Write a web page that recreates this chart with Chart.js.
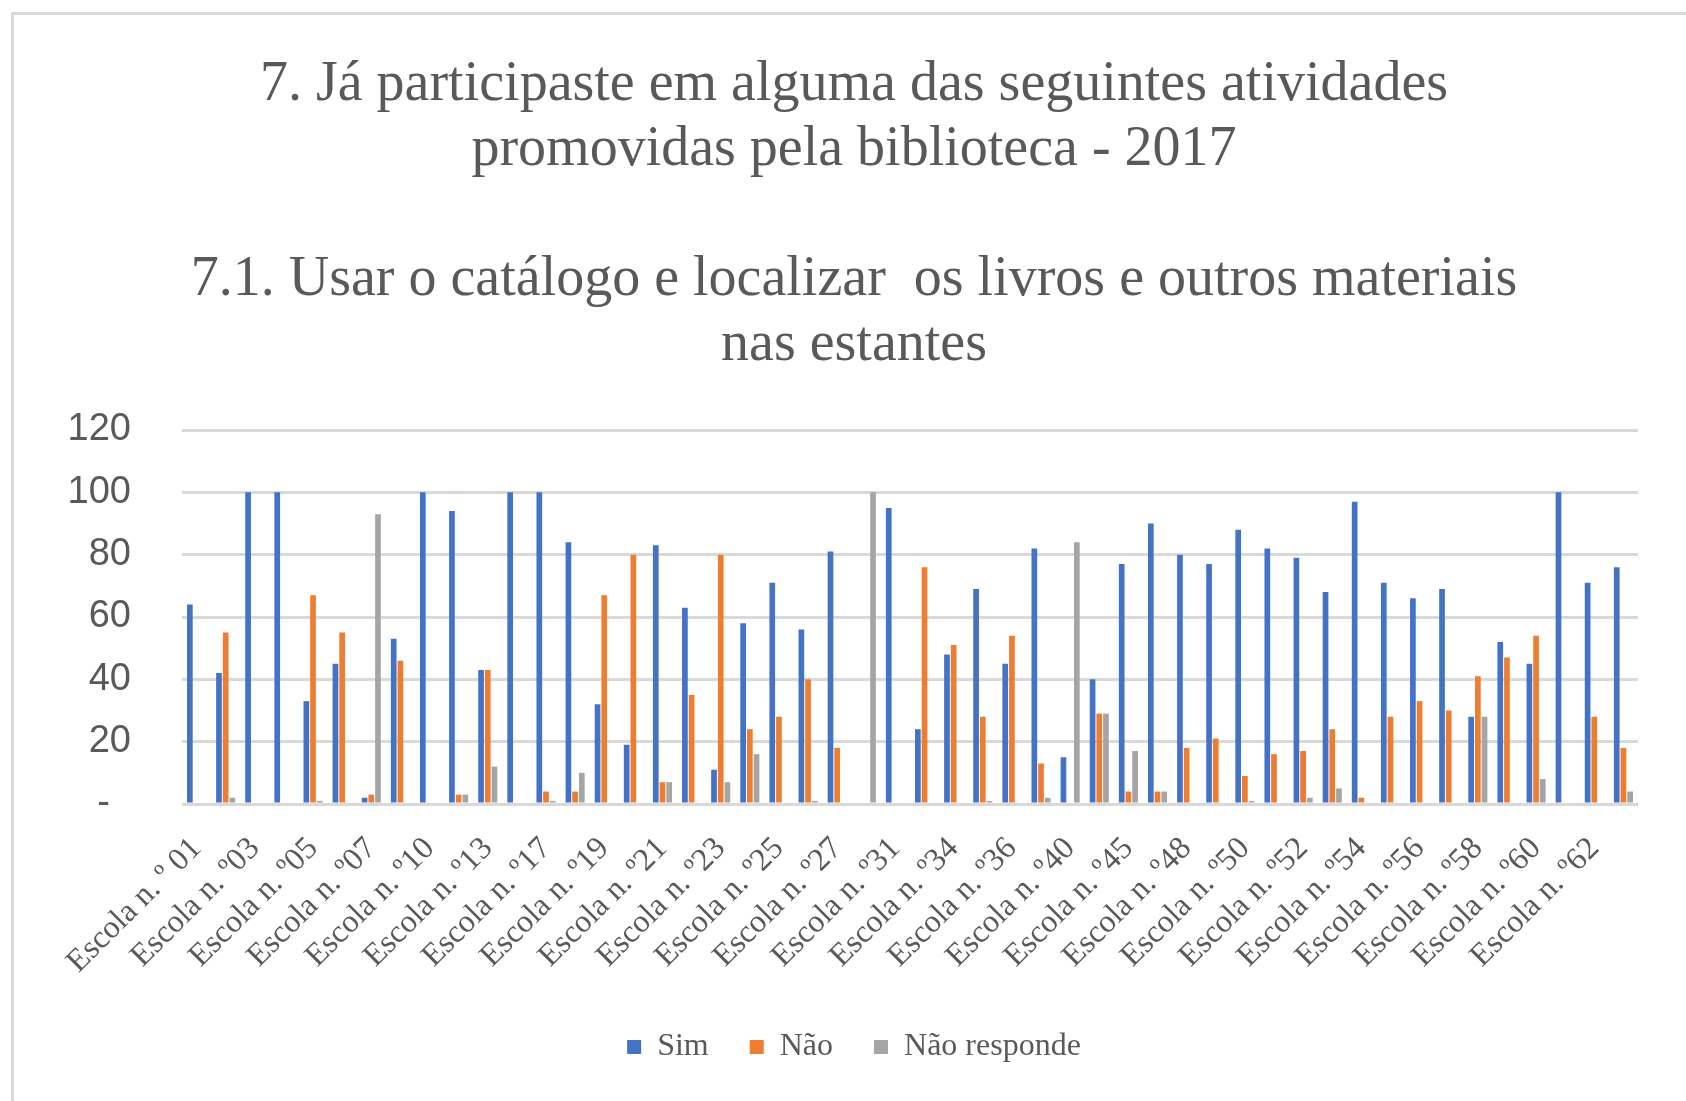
<!DOCTYPE html>
<html>
<head>
<meta charset="utf-8">
<script src="https://cdn.jsdelivr.net/npm/chart.js@4.4.1/dist/chart.umd.min.js"></script>
<style>
  html, body { margin: 0; padding: 0; background: #fff; overflow: hidden; }
  #frame { position: absolute; left: 11px; top: 12px; width: 1720px; height: 1200px; border: 3px solid #d9d9d9; }
  #wrap { position: absolute; left: 15px; top: 16px; width: 1680px; height: 1090px; }
</style>
</head>
<body>
<div id="frame"></div>
<div id="wrap"><canvas id="chart"></canvas></div>
<script>
// escolas (categorias)
const escolas = [
    'Escola n. º 01', 'Escola n. º02', 'Escola n. º03', 'Escola n. º04', 'Escola n. º05',
    'Escola n. º06', 'Escola n. º07', 'Escola n. º09', 'Escola n. º10', 'Escola n. º11',
    'Escola n. º13', 'Escola n. º15', 'Escola n. º17', 'Escola n. º18', 'Escola n. º19',
    'Escola n. º20', 'Escola n. º21', 'Escola n. º22', 'Escola n. º23', 'Escola n. º24',
    'Escola n. º25', 'Escola n. º26', 'Escola n. º27', 'Escola n. º29', 'Escola n. º31',
    'Escola n. º33', 'Escola n. º34', 'Escola n. º35', 'Escola n. º36', 'Escola n. º38',
    'Escola n. º40', 'Escola n. º43', 'Escola n. º45', 'Escola n. º47', 'Escola n. º48',
    'Escola n. º49', 'Escola n. º50', 'Escola n. º51', 'Escola n. º52', 'Escola n. º53',
    'Escola n. º54', 'Escola n. º55', 'Escola n. º56', 'Escola n. º57', 'Escola n. º58',
    'Escola n. º59', 'Escola n. º60', 'Escola n. º61', 'Escola n. º62', 'Escola n. º63'
];

const sim = [
    64, 42, 100, 100, 33, 45, 2, 53, 100, 94,
    43, 100, 100, 84, 32, 19, 83, 63, 11, 58,
    71, 56, 81, 0, 95, 24, 48, 69, 45, 82,
    15, 40, 77, 90, 80, 77, 88, 82, 79, 68,
    97, 71, 66, 69, 28, 52, 45, 100, 71, 76
];
const nao = [
    0, 55, 0, 0, 67, 55, 3, 46, 0, 3,
    43, 0, 4, 4, 67, 80, 7, 35, 80, 24,
    28, 40, 18, 0, 0, 76, 51, 28, 54, 13,
    0, 29, 4, 4, 18, 21, 9, 16, 17, 24,
    2, 28, 33, 30, 41, 47, 54, 0, 28, 18
];
const naoResponde = [
    0, 2, 0, 0, 1, 0, 93, 0, 0, 3,
    12, 0, 1, 10, 0, 0, 7, 0, 7, 16,
    0, 1, 0, 100, 0, 0, 0, 1, 0, 2,
    84, 29, 17, 4, 0, 0, 1, 0, 2, 5,
    0, 0, 0, 0, 28, 0, 8, 0, 0, 4
];

const yTicks = [0, 20, 40, 60, 80, 100, 120];

const titulo = [
    '7. Já participaste em alguma das seguintes atividades',
    'promovidas pela biblioteca - 2017',
    '',
    '7.1. Usar o catálogo e localizar  os livros e outros materiais',
    'nas estantes'
];

const cinza = '#595959';
const serif = "'Liberation Serif', 'Times New Roman', serif";

new Chart(document.getElementById('chart').getContext('2d'), {
    type: 'bar',
    data: {
        labels: escolas,
        datasets: [
            { label: 'Sim', data: sim, backgroundColor: '#4472C4' },
            { label: 'Não', data: nao, backgroundColor: '#ED7D31' },
            { label: 'Não responde', data: naoResponde, backgroundColor: '#A5A5A5' }
        ]
    },
    options: {
        responsive: true,
        maintainAspectRatio: false,
        animation: false,
        datasets: {
            bar: { categoryPercentage: 0.69, barPercentage: 0.85, borderWidth: 0 }
        },
        layout: { padding: { left: 55, right: 57, top: 0, bottom: 33 } },
        plugins: {
            tooltip: { enabled: false },
            title: {
                display: true,
                text: titulo,
                color: cinza,
                font: { family: serif, size: 56, weight: 'normal', lineHeight: '65px' },
                padding: { top: 37, bottom: 52 }
            },
            legend: {
                position: 'bottom',
                labels: {
                    color: cinza,
                    font: { family: serif, size: 32 },
                    boxWidth: 14,
                    boxHeight: 14,
                    padding: 41
                }
            }
        },
        scales: {
            x: {
                grid: { display: false },
                border: { display: false },
                // etiquetas rodadas podem sair da área (como no Excel)
                afterFit: (scale) => {
                    scale.height = 186;
                    scale.paddingLeft = 0;
                    scale.paddingRight = 0;
                },
                ticks: {
                    autoSkip: false,
                    minRotation: 45,
                    maxRotation: 45,
                    padding: 18,
                    color: cinza,
                    font: { family: serif, size: 32 },
                    callback: function (value, index) {
                        return index % 2 === 0 ? this.getLabelForValue(value) : '';
                    }
                }
            },
            y: {
                min: yTicks[0],
                max: yTicks[yTicks.length - 1],
                afterBuildTicks: (scale) => { scale.ticks = yTicks.map(v => ({ value: v })); },
                // largura fixa: etiqueta + padding (o Chart.js reserva 2x padding)
                afterFit: (scale) => { scale.width = 112; },
                grid: { color: '#d9d9d9', lineWidth: 3, drawTicks: false },
                border: { display: false },
                ticks: {
                    padding: 51,
                    color: cinza,
                    font: { family: "'Liberation Sans', Arial, sans-serif", size: 38 },
                    callback: (v) => v === 0 ? '-  ' : v
                }
            }
        }
    }
});
</script>
</body>
</html>
